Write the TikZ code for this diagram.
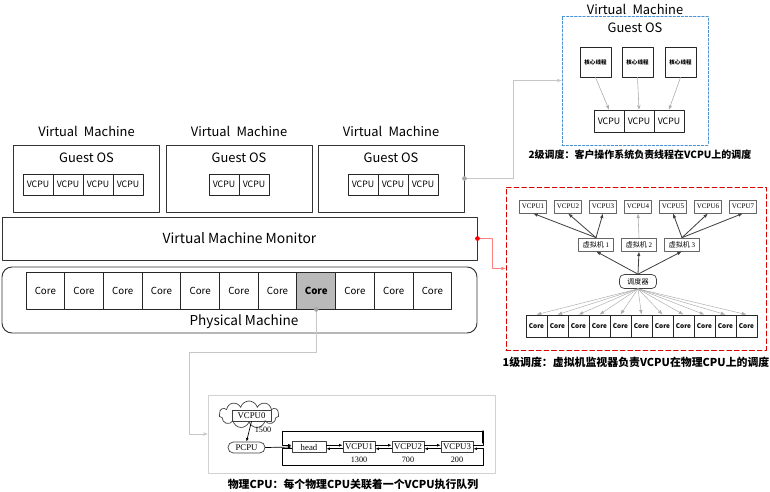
\documentclass[tikz,border=0pt]{standalone}
\usepackage{fontspec}
\setmainfont{Liberation Serif}
\newfontfamily\yahei{Noto Sans CJK SC}
\usetikzlibrary{arrows.meta,shapes.symbols,calc}

\def\unitpx{0.03cm}

\begin{document}
\begin{tikzpicture}[x=0.03cm, y=-0.03cm, line cap=round, line join=round, >=Stealth,
		lbl/.style={font=\yahei\fontsize{11}{12}\selectfont, inner sep=1pt},
		caption/.style={font=\yahei\bfseries\fontsize{9.3}{11}\selectfont, inner sep=1pt},
		vmbox/.style={draw=black!80, line width=0.8pt, minimum width=146*\unitpx, minimum height=67*\unitpx},
		vcell/.style={draw=black!85, line width=0.7pt, inner sep=0pt, minimum width=30*\unitpx, minimum height=21*\unitpx, font=\yahei\fontsize{7.5}{8}\selectfont},
		core/.style={draw=black!85, line width=0.7pt, inner sep=0pt, minimum width=38.7*\unitpx, minimum height=37*\unitpx, font=\yahei\fontsize{8.3}{9}\selectfont},
		thread/.style={draw=black!85, line width=0.7pt, inner sep=0pt, minimum width=31*\unitpx, minimum height=30*\unitpx, font=\yahei\bfseries\fontsize{4.7}{5}\selectfont},
		sbox/.style={draw=black!60, line width=0.6pt, inner sep=0pt, minimum height=13*\unitpx, font=\fontsize{6}{7}\selectfont},
		score/.style={draw=black!85, line width=0.7pt, inner sep=0pt, minimum width=21*\unitpx, minimum height=22*\unitpx, font=\yahei\bfseries\fontsize{5.5}{6}\selectfont},
		qbox/.style={draw=black!75, line width=0.6pt, inner sep=0pt, minimum height=11*\unitpx, font=\fontsize{7.5}{8}\selectfont},
		link/.style={-{Latex[length=3pt,width=2.4pt]}, line width=0.6pt},
		darrow/.style={-{Latex[length=4pt,width=3pt]}, line width=0.7pt, black!75},
		larrow/.style={-{Latex[length=4pt,width=3pt]}, line width=0.5pt, gray!65},
		feed/.style={-{Stealth[length=4pt]}, line width=0.5pt}]
		
		% Page size of the reference
		\useasboundingbox (0,0) rectangle (770,491);
		
		% Three virtual machines
		\foreach \i/\cx in {1/86.5, 2/239, 3/391} {
			\node[lbl] (vmt\i) at (\cx,131) {Virtual\hspace{0.25em} Machine};
			\node[vmbox] (vm\i) at (\cx,178.5) {};
			\node[lbl] (gos\i) at (\cx,158) {Guest OS};
		}
		\foreach \k in {0,...,3} \node[vcell] (va\k) at ({38+30*\k},184.5) {VCPU};
		\foreach \k in {0,1} \node[vcell] (vb\k) at ({224+30*\k},184.5) {VCPU};
		\foreach \k in {0,...,2} \node[vcell] (vc\k) at ({363+30*\k},184.5) {VCPU};
		
		% Monitor and physical machine
		\node[draw=black!80, line width=0.8pt, minimum width=475*\unitpx, minimum height=43*\unitpx, lbl, font=\yahei\fontsize{11.8}{13}\selectfont] (vmm) at (239.5,238.5) {Virtual Machine Monitor};
		\node[draw=black!80, line width=0.8pt, rounded corners=0.3cm, minimum width=475*\unitpx, minimum height=66*\unitpx] (pm) at (239.5,300) {};
		\foreach \k in {0,...,10} \node[core] (core\k) at ({45.35+38.7*\k},290.5) {Core};
		\node[core, fill=gray!55, font=\yahei\bfseries\fontsize{8.3}{9}\selectfont] at (core7) {Core};
		\node[lbl, font=\yahei\fontsize{11.6}{13}\selectfont] (pmt) at (244,322) {Physical Machine};
		
		% Level 2: guest OS schedules threads on VCPUs
		\node[draw=cyan!60!blue!75, line width=0.8pt, dash pattern=on 2pt off 1.5pt, minimum width=146*\unitpx, minimum height=129*\unitpx] (gosbox) at (635,80.5) {};
		\node[lbl] (vmt4) at (635,9) {Virtual\hspace{0.25em} Machine};
		\node[lbl] (gos4) at (635,28) {Guest OS};
		\foreach \i/\cx in {1/595.5, 2/637.5, 3/680.5} \node[thread] (kt\i) at (\cx,62) {核心线程};
		\foreach \i/\cx in {1/609, 2/639, 3/669} \node[vcell, minimum height=22*\unitpx] (gv\i) at (\cx,121) {VCPU};
		\foreach \i in {1,2,3} \draw[larrow, -{Stealth[length=4pt]}] (kt\i.south) -- (gv\i.north);
		\node[caption, font=\yahei\bfseries\fontsize{8.5}{10}\selectfont] (cap2) at (640,155) {2级调度：客户操作系统负责线程在VCPU上的调度};
		
		% Level 1: monitor schedules VCPUs on physical cores
		\node[draw=red!85!black, line width=0.8pt, dash pattern=on 4pt off 2.5pt, minimum width=260*\unitpx, minimum height=163*\unitpx] (vmmbox) at (636,268.5) {};
		\foreach \i in {1,...,7} \node[sbox, minimum width=27*\unitpx] (rv\i) at ({498+35*\i},206.5) {VCPU\i};
		\foreach \i/\cx in {1/596, 2/639, 3/682} \node[sbox, minimum width=35*\unitpx] (rm\i) at (\cx,244.5) {{\yahei 虚拟机} \i};
		\node[sbox, draw=black!75, rounded corners=4pt, minimum width=37*\unitpx, minimum height=14*\unitpx] (sched) at (638,281.5) {\yahei 调度器};
		\foreach \k in {0,...,10} \node[score] (rc\k) at ({536.5+21*\k},326) {Core};
		\foreach \i/\j in {1/1, 1/2, 1/3, 3/5, 3/6, 3/7} \draw[darrow] (rm\i.north) -- (rv\j.south);
		\draw[larrow] (rm2.north) -- (rv4.south);
		\foreach \i in {1,2,3} \draw[darrow] (sched.north) -- (rm\i.south);
		\foreach \k in {0,...,10} \draw[larrow, line width=0.4pt] (sched.south) -- (rc\k.north);
		\node[caption] (cap1) at (636,362) {1级调度：虚拟机监视器负责VCPU在物理CPU上的调度};
		
		% Physical CPU with its VCPU run queue
		\node[draw=gray!35, line width=0.6pt, minimum width=287*\unitpx, minimum height=78*\unitpx] (qbox) at (351.5,434) {};
		\node[cloud, draw=black!75, line width=0.6pt, cloud puffs=11, cloud ignores aspect, inner sep=0pt, minimum width=60*\unitpx, minimum height=27*\unitpx] (cloud) at (249,414.5) {};
		\node[qbox, minimum width=39*\unitpx] (vcpu0) at (251.5,415.5) {VCPU0};
		\node[qbox, rounded corners=0.16cm, minimum width=37*\unitpx] (pcpu) at (246.5,447.5) {PCPU};
		\node[font=\fontsize{7}{8}\selectfont, inner sep=0pt] (t1500) at (263,430) {1500};
		\node[qbox, minimum width=34*\unitpx] (q0) at (309,447) {head};
		\foreach \i/\cx/\w in {1/359/1300, 2/408/700, 3/457/200} {
			\node[qbox, minimum width=32*\unitpx] (q\i) at (\cx,447) {VCPU\i};
			\node[font=\fontsize{7}{8}\selectfont, inner sep=0pt] (w\i) at (\cx,459.5) {\w};
		}
		\draw[link] (vcpu0.south) -- (pcpu.north);
		\draw[link] (pcpu.east) -- (q0.west);
		\foreach \a/\b in {0/1, 1/2, 2/3} {
			\draw[link] ([yshift=1.5pt]q\a.east) -- ([yshift=1.5pt]q\b.west);
			\draw[link] ([yshift=-1.5pt]q\b.west) -- ([yshift=-1.5pt]q\a.east);
		}
		% list wraps round from the tail to the head
		\coordinate (tr) at (483,431); \coordinate (tl) at (282,431);
		\coordinate (br) at (483,465); \coordinate (bl) at (282,465);
		\draw[link] ([yshift=1.5pt]q3.east) -| (tr) -- (tl) |- ([yshift=1.5pt]q0.west);
		\draw[link] ([yshift=-1.5pt]q0.west) -| (bl) -- (br) |- ([yshift=-1.5pt]q3.east);
		\draw[line width=1.1pt] (tr) -- ++(0,12);
		\node[caption] (cap3) at (353,484) {物理CPU：每个物理CPU关联着一个VCPU执行队列};
		
		% Feed lines from the left diagram to the three details
		\draw[feed, gray!45] (vm3.east) -- ++(49,0) |- (gosbox.west);
		\fill[gray!70] (vm3.east) circle (2pt);
		\draw[feed, red!50] (vmm.east) -- ++(15,0) |- (vmmbox.west);
		\fill[red] (vmm.east) circle (2pt);
		\draw[feed, gray!45] (core7.south) -- ++(0,43) -- ++(-127,0) |- (qbox.west);
		\fill[gray!70] (core7.south) circle (2pt);
	\end{tikzpicture}
\end{document}
